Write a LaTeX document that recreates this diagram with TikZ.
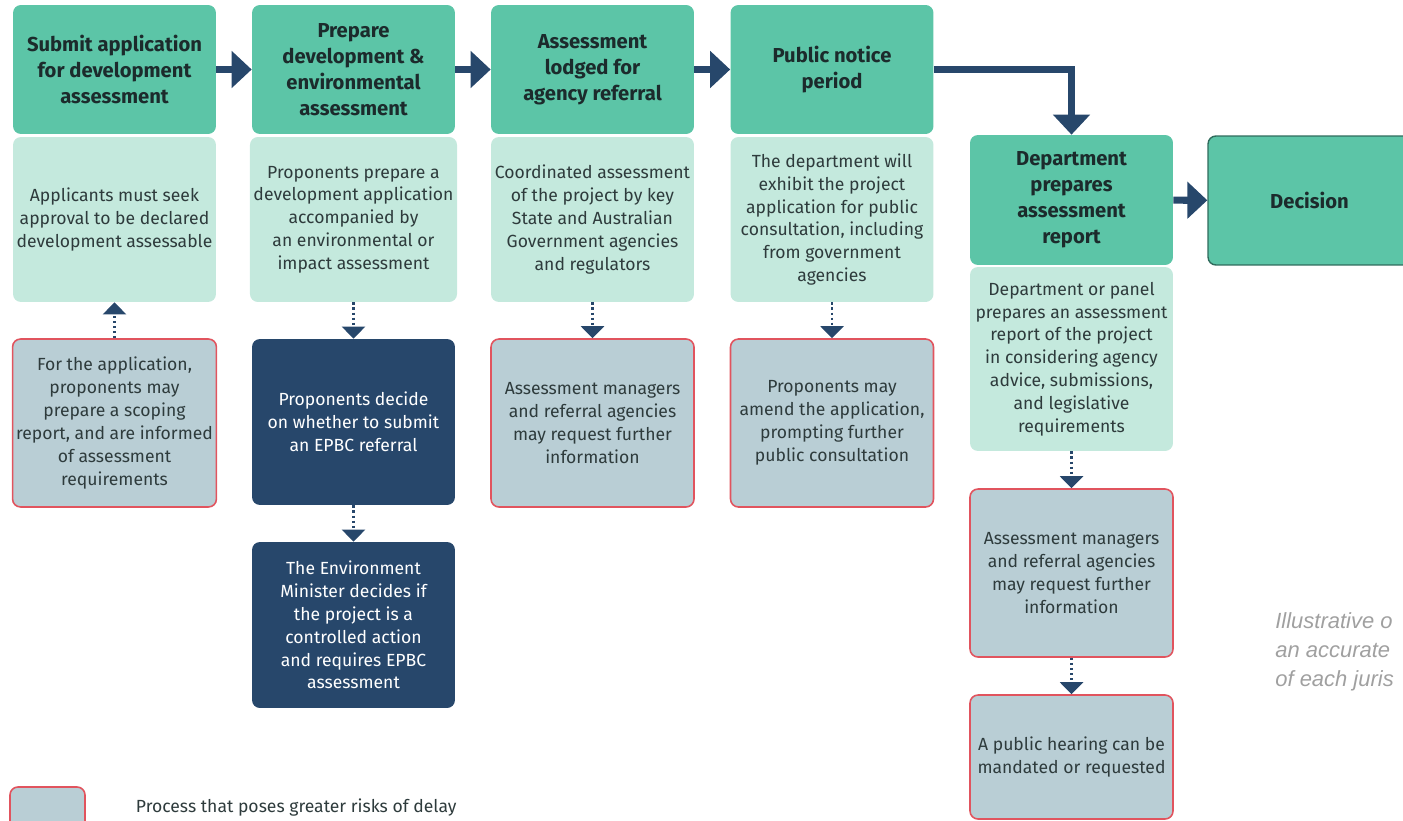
\documentclass[tikz,border=0pt]{standalone}
\usepackage{fontspec}
\setmainfont{Fira Sans}
\newfontfamily\asidefont{Liberation Sans}
\usepackage{xcolor}
\usetikzlibrary{positioning,arrows.meta}

\definecolor{stagegreen}{HTML}{5CC5A7}
\definecolor{stageedge}{HTML}{2F6B5C}
\definecolor{notegreen}{HTML}{C4E9DD}
\definecolor{navy}{HTML}{27476B}
\definecolor{riskfill}{HTML}{B9CED5}
\definecolor{riskline}{HTML}{E1545E}
\definecolor{inktext}{HTML}{1C2B2C}
\definecolor{bodytext}{HTML}{2E3B3C}
\definecolor{asidegray}{HTML}{A0A0A0}

\begin{document}
\begin{tikzpicture}[x=0.02cm, y=-0.02cm,
    box/.style={rounded corners=4.5pt, align=center, minimum width=4.06cm, inner sep=2pt},
    stage/.style={box, fill=stagegreen, text=inktext, minimum height=2.58cm,
        font=\bfseries\fontsize{11.5}{14.8}\selectfont},
    note/.style={box, fill=notegreen, text=bodytext, font=\fontsize{10}{13}\selectfont},
    risk/.style={box, fill=riskfill, draw=riskline, line width=0.9pt, text=bodytext,
        font=\fontsize{10}{13}\selectfont},
    federal/.style={box, fill=navy, text=white, font=\fontsize{10}{13}\selectfont},
    flow/.style={navy, line width=4pt, -{Triangle[length=4mm, width=7.2mm]}},
    hint/.style={navy, line width=1.3pt, dash pattern=on 1.3pt off 1.6pt,
        -{Triangle[length=2.4mm, width=4.6mm]}}
]
    \clip (0,0) rectangle (1403,821);

    % Stage headers
    \node[stage] (s1) at (114.5,69.5) {Submit application\\for development\\assessment};
    \node[stage] (s2) at (353.5,69.5) {Prepare\\development \&\\environmental\\assessment};
    \node[stage] (s3) at (592.5,69.5) {Assessment\\lodged for\\agency referral};
    \node[stage] (s4) at (832,69.5) {Public notice\\period};
    \node[stage, minimum height=2.6cm] (s5) at (1071.5,200) {Department\\prepares\\assessment\\report};
    \node[stage, draw=stageedge, line width=0.8pt] (decision) at (1309.5,200.5) {Decision};

    % Stage descriptions
    \node[note, minimum height=3.3cm] (n1) at (114.5,219.5) {Applicants must seek\\approval to be declared\\development assessable};
    \node[note, minimum height=3.3cm] (n2) at (353.5,219.5) {Proponents prepare a\\development application\\accompanied by\\an environmental or\\impact assessment};
    \node[note, minimum height=3.3cm] (n3) at (592.5,219.5) {Coordinated assessment\\of the project by key\\State and Australian\\Government agencies\\and regulators};
    \node[note, minimum height=3.3cm] (n4) at (832,219.5) {The department will\\exhibit the project\\application for public\\consultation, including\\from government\\agencies};
    \node[note, minimum height=3.68cm] (n5) at (1071.5,359) {Department or panel\\prepares an assessment\\report of the project\\in considering agency\\advice, submissions,\\and legislative\\requirements};

    % Steps with risk of delay
    \node[risk, minimum height=3.36cm] (r1) at (114.5,423) {For the application,\\proponents may\\prepare a scoping\\report, and are informed\\of assessment\\requirements};
    \node[risk, minimum height=3.36cm] (r3) at (592.5,423) {Assessment managers\\and referral agencies\\may request further\\information};
    \node[risk, minimum height=3.36cm] (r4) at (832,423) {Proponents may\\amend the application,\\prompting further\\public consultation};
    \node[risk, minimum height=3.36cm] (r5) at (1071.5,573) {Assessment managers\\and referral agencies\\may request further\\information};
    \node[risk, minimum height=2.48cm] (r6) at (1071.5,757) {A public hearing can be\\mandated or requested};

    % EPBC referral path
    \node[federal, minimum height=3.32cm] (e1) at (353.5,422) {Proponents decide\\on whether to submit\\an EPBC referral};
    \node[federal, minimum height=3.32cm] (e2) at (353.5,625) {The Environment\\Minister decides if\\the project is a\\controlled action\\and requires EPBC\\assessment};

    % Main sequence
    \draw[flow] (s1) -- (s2);
    \draw[flow] (s2) -- (s3);
    \draw[flow] (s3) -- (s4);
    \draw[flow] (s4.east) -| (s5.north);
    \draw[flow] (s5) -- (decision);

    % Side steps
    \draw[hint] (r1) -- (n1);
    \draw[hint] (n2) -- (e1);
    \draw[hint] (e1) -- (e2);
    \draw[hint] (n3) -- (r3);
    \draw[hint] (n4) -- (r4);
    \draw[hint] (n5) -- (r5);
    \draw[hint] (r5) -- (r6);

    % Legend
    \node[risk, minimum width=1.5cm, minimum height=0.84cm] (legbox) at (47.5,808) {};
    \node[right=0.88cm of legbox, text=bodytext, font=\fontsize{10}{13}\selectfont] (legtext) {Process that poses greater risks of delay};

    % Side remark
    \node[anchor=north west, align=left, inner sep=0pt, text=asidegray,
        font=\asidefont\itshape\fontsize{12.5}{16.5}\selectfont] (aside) at (1275,612) {Illustrative o\\an accurate\\of each juris};
\end{tikzpicture}
\end{document}
